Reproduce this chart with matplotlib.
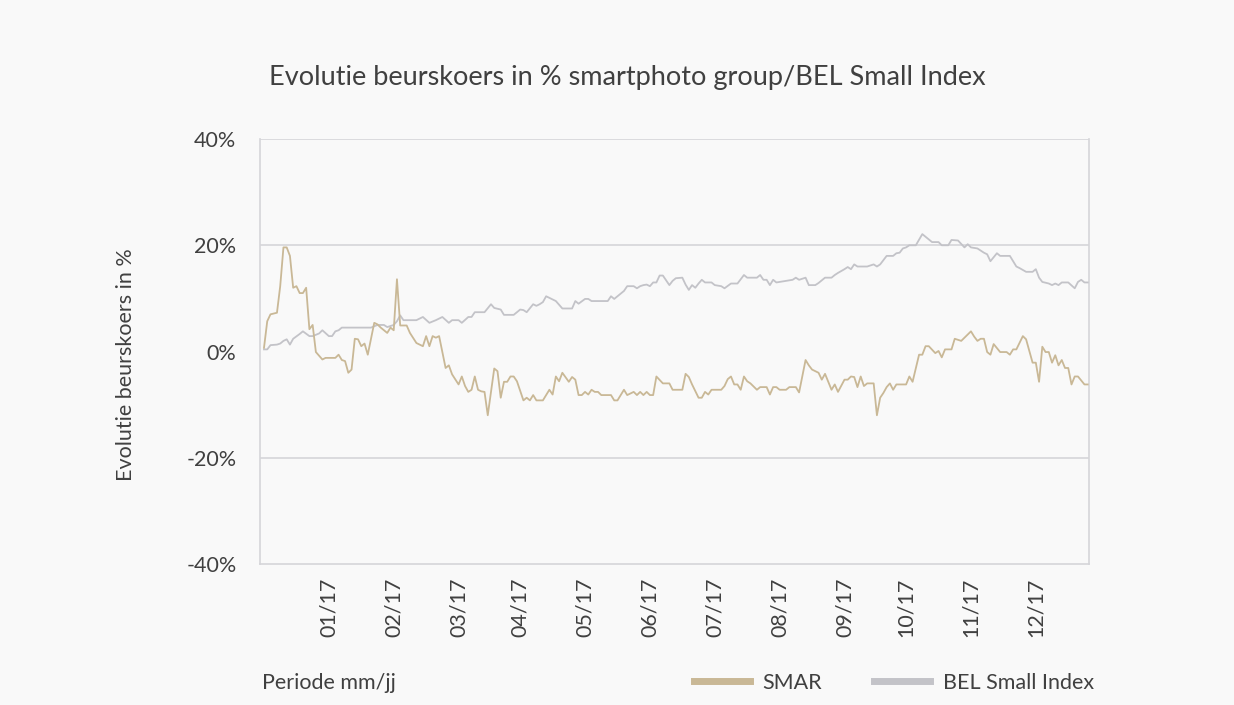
import matplotlib
matplotlib.use("Agg")
import matplotlib.pyplot as plt
from matplotlib.lines import Line2D

# trading day index (0 = first trading day of 2017) and % change
smar_day = [0, 1, 2, 4, 5, 6, 7, 8, 9, 10, 11, 12, 13, 14, 15, 16, 18, 19, 22, 23,
            24, 25, 26, 27, 28, 29, 30, 31, 32, 34, 35, 36, 38, 39, 40, 41, 42, 44, 45, 47,
            49, 50, 51, 52, 53, 54, 56, 57, 58, 60, 61, 62, 63, 64, 65, 66, 67, 68, 69, 71,
            72, 73, 74, 75, 76, 77, 78, 80, 81, 82, 83, 84, 86, 88, 89, 90, 91, 92, 94, 95,
            96, 97, 98, 99, 100, 101, 102, 103, 104, 107, 108, 109, 111, 112, 114, 115, 116, 117, 118, 119,
            120, 121, 123, 125, 126, 129, 130, 131, 132, 134, 135, 136, 137, 138, 141, 142, 143, 144, 145, 146,
            147, 148, 149, 150, 152, 153, 155, 156, 157, 158, 159, 161, 162, 164, 165, 167, 168, 169, 171, 172,
            173, 175, 176, 177, 179, 180, 181, 182, 183, 184, 185, 186, 188, 189, 190, 191, 192, 193, 194, 195,
            198, 199, 200, 202, 203, 204, 205, 207, 208, 209, 210, 212, 213, 215, 217, 218, 219, 220, 221, 222,
            223, 224, 225, 227, 229, 230, 231, 232, 234, 235, 237, 238, 239, 240, 241, 242, 243, 244, 245, 246,
            247, 248, 249, 250, 251, 253, 254]
smar_pct = [0.7, 5.7, 7.0, 7.3, 12.3, 19.6, 19.6, 18.0, 12.0, 12.3, 11.0, 11.0, 12.0, 4.2, 5.0, -0.1, -1.5, -1.2, -1.2, -0.6,
            -1.6, -1.8, -4.0, -3.4, 2.4, 2.3, 1.0, 1.5, -0.6, 5.4, 5.1, 4.5, 3.5, 4.5, 4.0, 13.6, 4.9, 4.9, 3.5, 1.6,
            1.0, 2.9, 1.0, 2.9, 2.6, 2.9, -3.1, -2.6, -4.3, -6.2, -4.7, -6.5, -7.6, -7.2, -4.7, -7.2, -7.5, -7.6, -12.0, -3.2,
            -3.7, -8.7, -5.7, -5.7, -4.7, -4.7, -5.6, -9.2, -8.7, -9.2, -8.2, -9.2, -9.2, -7.2, -8.1, -4.7, -5.6, -4.0, -5.7, -4.8,
            -5.3, -8.2, -8.2, -7.6, -8.1, -7.2, -7.6, -7.6, -8.2, -8.2, -9.2, -9.2, -7.2, -8.2, -7.6, -8.2, -7.6, -8.2, -7.6, -8.2,
            -8.2, -4.7, -6.0, -6.0, -7.2, -7.2, -4.2, -4.8, -6.2, -8.7, -8.7, -7.6, -8.1, -7.2, -7.2, -6.5, -5.2, -4.7, -6.2, -6.2,
            -7.2, -4.7, -5.6, -6.0, -7.2, -6.7, -6.7, -8.1, -6.7, -6.7, -7.2, -7.2, -6.7, -6.7, -7.7, -1.6, -2.6, -3.4, -4.0, -5.3,
            -4.2, -7.2, -6.2, -7.6, -5.3, -5.3, -4.7, -4.8, -6.7, -4.7, -6.5, -6.0, -6.0, -12.0, -8.7, -7.8, -6.7, -6.0, -7.2, -6.2,
            -6.2, -4.7, -5.7, -0.6, -0.6, 1.0, 1.0, -0.3, 0.1, -1.1, 0.4, 0.4, 2.4, 2.0, 3.2, 3.8, 2.8, 2.0, 2.4, 2.4,
            -0.1, -0.6, 1.4, -0.1, -0.1, -0.6, 0.4, 0.4, 2.9, 2.3, -2.1, -2.1, -5.7, 0.9, -0.1, -0.1, -2.1, -0.7, -2.6, -1.6,
            -3.1, -3.1, -6.2, -4.7, -4.7, -6.2, -6.2]

bel_day = [0, 1, 2, 4, 5, 6, 7, 8, 9, 11, 12, 14, 15, 17, 18, 20, 21, 22, 23, 24,
           33, 35, 37, 38, 40, 41, 42, 43, 47, 49, 51, 53, 55, 57, 58, 60, 61, 63, 64, 65,
           68, 70, 71, 73, 74, 77, 79, 80, 81, 83, 84, 85, 86, 87, 89, 90, 92, 95, 96, 97,
           99, 100, 101, 106, 107, 108, 109, 111, 112, 114, 115, 116, 117, 118, 119, 120, 121, 122, 123, 125,
           126, 127, 129, 130, 131, 132, 133, 134, 135, 136, 138, 139, 141, 142, 144, 146, 148, 149, 152, 153,
           154, 155, 156, 157, 158, 163, 164, 165, 167, 168, 170, 171, 173, 175, 176, 177, 179, 180, 181, 182,
           183, 186, 188, 189, 190, 192, 194, 195, 196, 197, 198, 199, 201, 203, 206, 208, 209, 211, 212, 214,
           216, 217, 218, 220, 222, 223, 224, 226, 227, 230, 232, 233, 235, 237, 238, 239, 240, 242, 243, 244,
           245, 246, 248, 250, 251, 252, 253, 254]
bel_pct = [0.4, 0.4, 1.2, 1.3, 1.5, 2.0, 2.3, 1.3, 2.4, 3.3, 3.8, 2.9, 2.9, 3.4, 4.0, 2.9, 2.9, 3.8, 4.0, 4.5,
           4.5, 5.0, 5.0, 4.6, 5.0, 5.7, 6.8, 5.9, 5.9, 6.5, 5.4, 5.9, 6.5, 5.4, 5.9, 5.9, 5.4, 6.5, 6.5, 7.4,
           7.4, 8.9, 8.2, 7.9, 6.9, 6.9, 7.9, 7.8, 7.4, 8.9, 8.6, 8.9, 9.3, 10.4, 9.8, 9.5, 8.1, 8.1, 9.5, 9.0,
           9.9, 9.9, 9.5, 9.5, 10.4, 9.9, 10.4, 11.4, 12.3, 12.3, 11.9, 12.3, 12.5, 12.6, 12.3, 13.0, 13.0, 14.3, 14.3, 12.5,
           13.3, 13.8, 13.9, 12.6, 11.6, 12.5, 12.0, 12.8, 13.5, 13.0, 13.0, 12.5, 12.3, 11.9, 12.8, 12.8, 14.4, 13.9, 13.9, 14.4,
           13.5, 13.5, 12.5, 13.5, 13.0, 13.5, 13.9, 13.5, 13.9, 12.5, 12.5, 12.9, 13.9, 13.9, 14.4, 14.8, 15.5, 15.9, 15.5, 16.4,
           16.0, 16.0, 16.4, 16.0, 16.4, 18.0, 18.0, 18.5, 18.6, 19.4, 19.6, 20.0, 20.0, 22.1, 20.6, 20.6, 20.0, 20.0, 21.0, 20.9,
           19.6, 20.2, 19.6, 19.4, 18.6, 18.3, 17.0, 18.5, 18.0, 18.0, 16.0, 15.7, 15.0, 15.0, 15.5, 13.9, 13.1, 12.8, 12.5, 12.8,
           12.5, 13.0, 13.0, 11.9, 13.1, 13.5, 13.0, 13.0]

tick_days = [20, 40, 60, 79, 99, 119, 139, 159, 179, 198, 218, 238]
tick_labels = ["01/17", "02/17", "03/17", "04/17", "05/17", "06/17",
               "07/17", "08/17", "09/17", "10/17", "11/17", "12/17"]
y_ticks = [-40, -20, 0, 20, 40]

smar_color = "#C9B896"
bel_color = "#C3C3C8"
grid_color = "#D5D5D9"
text_color = "#404040"
bg = "#F9F9F9"
fs = 15.5

plt.rcParams["font.family"] = ["Lato", "DejaVu Sans"]

fig = plt.figure(figsize=(12.34, 7.05), dpi=100, facecolor=bg)
ax = fig.add_axes([0.2107, 0.2, 0.6718, 0.6028])
ax.set_facecolor(bg)

for v in [40, 20, -20]:
    ax.axhline(v, color=grid_color, lw=1.2, zorder=1)

ax.plot(bel_day, bel_pct, color=bel_color, lw=1.3, zorder=3)
ax.plot(smar_day, smar_pct, color=smar_color, lw=1.3, zorder=4)

ax.set_xlim(-1.23, 254.4)
ax.set_ylim(-40, 40)
ax.set_yticks(y_ticks)
ax.set_yticklabels([f"{v}%" for v in y_ticks], fontsize=fs, color=text_color)
ax.set_xticks(tick_days)
ax.set_xticklabels(tick_labels, rotation=90, fontsize=fs, color=text_color)
ax.tick_params(axis="both", length=0)
ax.tick_params(axis="y", pad=17)
ax.tick_params(axis="x", pad=10)

ax.spines["top"].set_visible(False)
for side in ["left", "right", "bottom"]:
    ax.spines[side].set_color(grid_color)
    ax.spines[side].set_linewidth(1.2)

ax.set_ylabel("Evolutie beurskoers in %", fontsize=fs, color=text_color)
ax.yaxis.set_label_coords(-0.15, 0.468)

fig.text(0.508, 1 - 78 / 705, "Evolutie beurskoers in % smartphoto group/BEL Small Index",
         ha="center", va="center", fontsize=19.5, color=text_color)
fig.text(262 / 1234, 1 - 683 / 705, "Periode mm/jj", ha="left", va="center",
         fontsize=fs, color=text_color)

handles = [Line2D([0], [0], color=smar_color, lw=5),
           Line2D([0], [0], color=bel_color, lw=5)]
leg = fig.legend(handles, ["SMAR", "BEL Small Index"], loc="center right",
                 bbox_to_anchor=(1094 / 1234, 1 - 683 / 705), ncol=2, frameon=False,
                 handlelength=2.6, handletextpad=0.6, columnspacing=2.4,
                 borderpad=0, borderaxespad=0, prop={"size": fs})
for t in leg.get_texts():
    t.set_color(text_color)

fig.savefig("out.png", dpi=100, facecolor=bg)
